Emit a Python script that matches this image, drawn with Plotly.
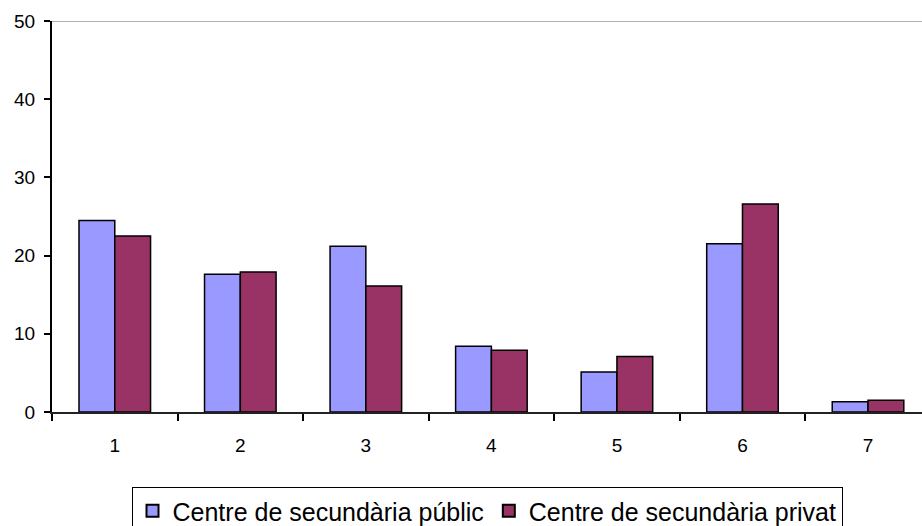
import plotly.graph_objects as go

categories = ["1", "2", "3", "4", "5", "6", "7"]
public_values = [24.5, 17.6, 21.2, 8.4, 5.1, 21.5, 1.3]
private_values = [22.5, 17.9, 16.1, 7.9, 7.1, 26.6, 1.5]
series_names = ["Centre de secundària públic", "Centre de secundària privat"]
y_ticks = [0, 10, 20, 30, 40, 50]

FONT = "Arial, 'Liberation Sans', sans-serif"

fig = go.Figure()
fig.add_trace(go.Bar(
    x=categories, y=public_values, name=series_names[0],
    marker=dict(color="#9999FF", line=dict(color="black", width=1.5)),
))
fig.add_trace(go.Bar(
    x=categories, y=private_values, name=series_names[1],
    marker=dict(color="#993366", line=dict(color="black", width=1.5)),
))

fig.add_shape(type="line", xref="paper", yref="y", x0=0, x1=1, y0=50, y1=50,
              line=dict(color="#999999", width=1.5))

fig.update_layout(
    width=922, height=526,
    margin=dict(l=52, r=0, t=21, b=114, autoexpand=False),
    paper_bgcolor="white", plot_bgcolor="white",
    barmode="group", bargap=0.43, bargroupgap=0,
    font=dict(family=FONT, color="black"),
    showlegend=True,
    legend=dict(
        orientation="h", x=0.5, xanchor="center", xref="paper",
        y=-0.192, yanchor="top",
        bordercolor="black", borderwidth=1,
        font=dict(size=25, family=FONT, color="black"),
        itemsizing="constant", traceorder="normal",
    ),
    xaxis=dict(
        type="category", range=[-0.5, 6.43], automargin=False,
        showline=True, linecolor="#222222", linewidth=1.5,
        ticks="outside", tickson="boundaries", ticklen=7, tickcolor="black", tickwidth=1.5,
        tickfont=dict(size=19), ticklabelstandoff=15,
        showgrid=False, zeroline=False, fixedrange=True,
    ),
    yaxis=dict(
        range=[0, 50], tickvals=y_ticks, automargin=False,
        showline=True, linecolor="black", linewidth=2,
        ticks="outside", ticklen=6, tickcolor="black", tickwidth=1.5,
        tickfont=dict(size=19), ticklabelstandoff=5,
        showgrid=False, zeroline=False,
    ),
)

fig.write_html(
    "out.html",
    config={"displayModeBar": False},
    post_script="document.body.style.margin='0';document.body.style.overflow='hidden';",
)
